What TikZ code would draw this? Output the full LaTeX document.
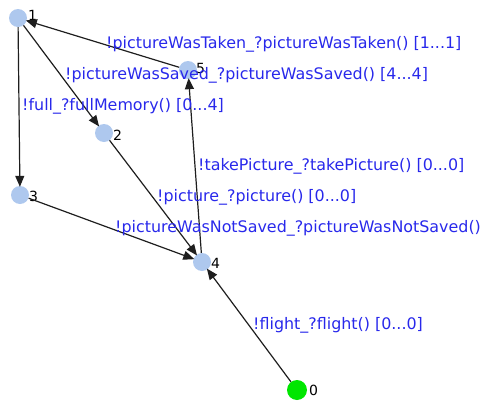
\documentclass[tikz,border=0pt]{standalone}
\usepackage{fontspec}
\setmainfont{DejaVu Sans}
\usetikzlibrary{arrows.meta}
\definecolor{nodeblue}{RGB}{174,200,238}
\definecolor{startgreen}{RGB}{0,230,0}
\definecolor{lblblue}{RGB}{40,40,235}
\definecolor{edgegray}{RGB}{30,30,30}
\begin{document}
\begin{tikzpicture}[x=1pt,y=-1pt,
  state/.style={circle,fill=nodeblue,minimum size=18pt,inner sep=0pt},
  start/.style={circle,fill=startgreen,minimum size=20pt,inner sep=0pt},
  num/.style={anchor=west,inner sep=0pt,font=\fontsize{14}{16}\selectfont,text=black},
  lbl/.style={anchor=west,inner sep=0pt,font=\fontsize{15.9}{18}\selectfont,text=lblblue},
  edge/.style={draw=edgegray,line width=1.2pt,-{Triangle[length=11pt,width=9pt]},shorten >=-1pt}]
\useasboundingbox (0,0) rectangle (483,405);
\node[state] (n1) at (18,18) {};
\node[state] (n2) at (104,133) {};
\node[state] (n3) at (20,195) {};
\node[state] (n4) at (202,262) {};
\node[state] (n5) at (188,70) {};
\node[start] (n0) at (297,390) {};
\node[num] (t1) at (28,15) {1};
\node[num] (t2) at (113,135) {2};
\node[num] (t3) at (29,196) {3};
\node[num] (t4) at (211,263) {4};
\node[num] (t5) at (196,68) {5};
\node[num] (t0) at (309,390) {0};
\draw[edge] (n1) -- (n2);
\draw[edge] (n1) -- (n3);
\draw[edge] (n3) -- (n4);
\draw[edge] (n2) -- (n4);
\draw[edge] (n5) -- (n1);
\draw[edge] (n4) -- (n5);
\draw[edge] (n0) -- (n4);
\node[lbl] (l1) at (106,44) {!pictureWasTaken\_?pictureWasTaken() [1...1]};
\node[lbl] (l2) at (65,75) {!pictureWasSaved\_?pictureWasSaved() [4...4]};
\node[lbl] (l3) at (22,106) {!full\_?fullMemory() [0...4]};
\node[lbl] (l4) at (198,166) {!takePicture\_?takePicture() [0...0]};
\node[lbl] (l5) at (157,197) {!picture\_?picture() [0...0]};
\node[lbl] (l6) at (115,228) {!pictureWasNotSaved\_?pictureWasNotSaved()};
\node[lbl] (l7) at (253,325) {!flight\_?flight() [0...0]};
\end{tikzpicture}
\end{document}
